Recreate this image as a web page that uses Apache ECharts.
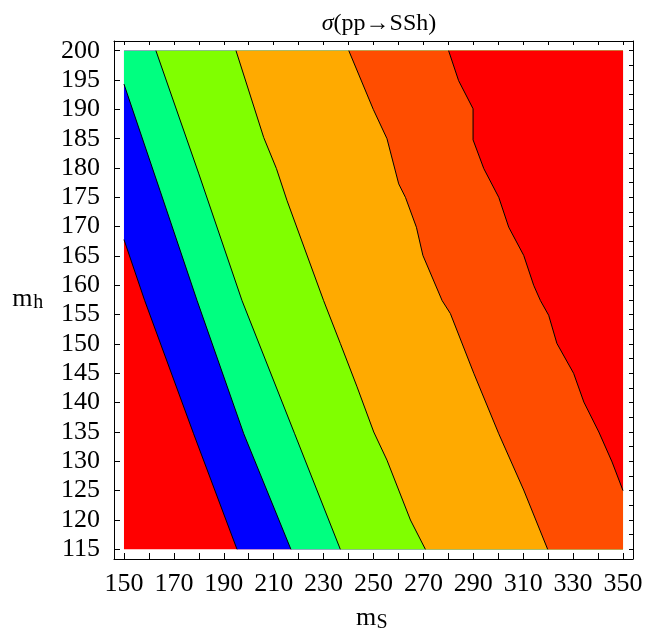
<!DOCTYPE html>
<html>
<head>
<meta charset="utf-8">
<script src="https://cdn.jsdelivr.net/npm/echarts@6/dist/echarts.min.js"></script>
<style>
  html, body { margin: 0; padding: 0; background: #fff; }
  #chart { width: 647px; height: 631px; }
</style>
</head>
<body>
<div id="chart"></div>
<script>
// ---- data ----
const xRange = [150, 350];
const yRange = [115, 200];
const xTicks = [150,160,170,180,190,200,210,220,230,240,250,260,270,280,290,300,310,320,330,340,350];
const xLabels = [150,170,190,210,230,250,270,290,310,330,350];
const yTicks = [115,120,125,130,135,140,145,150,155,160,165,170,175,180,185,190,195,200];
const yMinorTicks = [115,117.5,120,122.5,125,127.5,130,132.5,135,137.5,140,142.5,145,147.5,150,152.5,155,157.5,160,162.5,165,167.5,170,172.5,175,177.5,180,182.5,185,187.5,190,192.5,195,197.5,200];

// contour boundaries (mS, mh), ordered from top/left edge to bottom/right edge
const bRedBlue = [[150,167.8],[158.3,157.4],[177.9,134.7],[195.3,115]];
const bBlueGreen = [[150,194.3],[164.4,176.2],[179.3,157.4],[198,134.7],[216.9,115]];
const bGreenLime = [[162.8,200],[180,179],[197.3,157.4],[218.4,134.7],[236.7,115]];
const bLimeOrange = [[194.9,200],[206.0,185.2],[211.1,179.9],[215.3,174.5],[230.0,157.4],[236.7,150.1],[243.4,142.7],[250.1,135.0],[255.4,130.2],[264.8,120.0],[270.8,115]];
const bOrangeOrangered = [[240.1,200],[249.9,190],[255.4,185.0],[260.1,177.3],[262.8,175.0],[267.2,169.9],[269.8,165.1],[277.5,157.4],[280.8,155.2],[290.2,145.0],[300.2,134.7],[310.2,125.1],[319.8,115]];
const bOrangeredRed = [[280.1,200],[284.1,194.9],[289.9,190.1],[289.9,184.8],[294.2,179.9],[300.2,175.0],[304.2,169.9],[310.2,165.1],[314.2,160.0],[316.9,157.4],[320.2,154.9],[323.5,150.1],[330.2,145.0],[334.3,140.1],[340.3,135.0],[345.6,129.9],[350,125.0]];

const boundaries = [bRedBlue, bBlueGreen, bGreenLime, bLimeOrange, bOrangeOrangered, bOrangeredRed];
const bandColors = ['#ff0000', '#0000ff', '#00ff80', '#80ff00', '#ffaa00', '#ff4d00', '#ff0000'];

// ---- build region polygons (area to the right of each boundary) ----
function regionPolygon(i) {
  const [x0, x1] = xRange, [y0, y1] = yRange;
  if (i === 0) return [[x0, y0], [x1, y0], [x1, y1], [x0, y1]];
  const b = boundaries[i - 1];
  const pts = b.slice();
  const last = b[b.length - 1];
  const first = b[0];
  if (last[1] === y0) pts.push([x1, y0]);
  pts.push([x1, y1]);
  if (first[0] === x0 && first[1] < y1) pts.push([x0, y1]);
  return pts;
}

const regions = bandColors.map((c, i) => regionPolygon(i));

const serif = 'Liberation Serif';
const chart = echarts.init(document.getElementById('chart'), null, { renderer: 'canvas' });

const lineSeries = boundaries.map((b) => ({
  type: 'line',
  data: b,
  showSymbol: false,
  symbol: 'none',
  lineStyle: { color: '#000', width: 1 },
  z: 5,
  silent: true,
  animation: false
}));

function txt(text, x, y, size) {
  return {
    type: 'text', x: x, y: y, silent: true,
    style: { text: text, fontFamily: serif, fontSize: size, fill: '#000', align: 'left', verticalAlign: 'middle' }
  };
}

chart.setOption({
  animation: false,
  title: {
    text: '{i|σ}(pp→SSh)',
    left: 374,
    textAlign: 'center',
    top: 7,
    textStyle: {
      fontFamily: serif, fontSize: 24, fontWeight: 'normal', color: '#000',
      rich: { i: { fontFamily: serif, fontSize: 24, fontStyle: 'italic', color: '#000' } }
    }
  },
  graphic: [
    // x-axis title m_S
    txt('m', 356, 617.9, 26),
    txt('S', 376.5, 623.2, 20),
    // y-axis title m_h
    txt('m', 12.3, 299.0, 26),
    txt('h', 33.3, 303.2, 20)
  ],
  grid: { left: 114, top: 41, width: 519, height: 518 },
  xAxis: [{
    type: 'value', min: 146, max: 354, position: 'bottom',
    axisLine: { show: true, lineStyle: { color: '#000', width: 1 } },
    axisTick: { show: true, inside: true, length: 6, customValues: xTicks, lineStyle: { color: '#000' } },
    axisLabel: { show: true, customValues: xLabels, margin: 12, fontFamily: serif, fontSize: 26, color: '#000' },
    splitLine: { show: false }
  }, {
    type: 'value', min: 146, max: 354, position: 'top',
    axisLine: { show: true, lineStyle: { color: '#000', width: 1 } },
    axisTick: { show: true, inside: true, length: 4, customValues: xTicks, lineStyle: { color: '#000' } },
    axisLabel: { show: false },
    splitLine: { show: false }
  }],
  yAxis: [{
    type: 'value', min: 113.35, max: 201.65, position: 'left',
    axisLine: { show: true, lineStyle: { color: '#000', width: 1 } },
    axisTick: { show: true, inside: true, length: 6, customValues: yTicks, lineStyle: { color: '#000' } },
    axisLabel: { show: true, customValues: yTicks, margin: 14, fontFamily: serif, fontSize: 26, color: '#000' },
    splitLine: { show: false }
  }, {
    type: 'value', min: 113.35, max: 201.65, position: 'right',
    axisLine: { show: true, lineStyle: { color: '#000', width: 1 } },
    axisTick: { show: true, inside: true, length: 4, customValues: yMinorTicks, lineStyle: { color: '#000' } },
    axisLabel: { show: false },
    splitLine: { show: false }
  }],
  series: [{
    type: 'custom',
    coordinateSystem: 'cartesian2d',
    data: regions.map((r, i) => [xRange[0], yRange[0], i]),
    encode: { x: 0, y: 1 },
    silent: true,
    z: 2,
    renderItem: function (params, api) {
      const i = params.dataIndex;
      const pts = regions[i].map(p => api.coord(p));
      return {
        type: 'polygon',
        shape: { points: pts },
        style: { fill: bandColors[i], stroke: null }
      };
    }
  }].concat(lineSeries)
});
</script>
</body>
</html>
